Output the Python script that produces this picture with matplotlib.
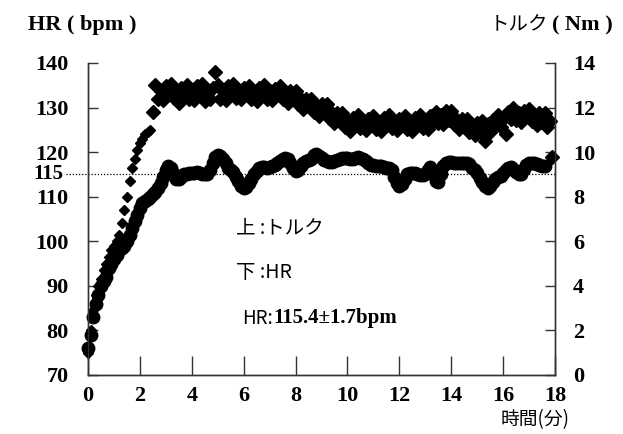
import numpy as np
import matplotlib
matplotlib.use("Agg")
import matplotlib.pyplot as plt
from matplotlib.transforms import blended_transform_factory

# time axis (min), sampled every 0.1 min
t_hr = np.round(np.arange(0, 17.65, 0.1), 2)
t_tq = np.round(np.arange(0, 17.95, 0.1), 2)

# heart rate (bpm)
hr = [76, 79, 83, 86, 88, 90, 91, 92, 94, 95,
      96, 97, 98, 98.5, 99, 100, 101.5, 103, 104.5, 106,
      107.5, 108.5, 109, 109.5, 110, 110.5, 111, 112, 113, 114.5,
      116, 117, 116.5, 115, 114, 114, 114.5, 115, 115, 115.3,
      115.3, 115.3, 115.5, 115.3, 115, 115, 115, 116, 117.5, 118.8,
      119.3, 119.2, 118.5, 117.5, 116.5, 116, 115.5, 114.5, 113.5, 112.5,
      112, 112.2, 113, 114, 115, 115.8, 116.5, 116.7, 116.7, 116.5,
      116.7, 117, 117.2, 117.5, 118, 118.5, 118.7, 118.5, 117.5, 116.5,
      115.8, 116, 116.8, 117.5, 118, 118.2, 118.5, 119.3, 119.5, 119.2,
      118.7, 118.3, 118, 117.8, 117.8, 118, 118.3, 118.5, 118.7, 118.7,
      118.7, 118.5, 118.5, 118.7, 118.8, 118.7, 118.5, 118, 117.5, 117.2,
      117.1, 117, 117, 116.8, 116.7, 116.5, 116.4, 116, 114.5, 113,
      112.5, 112.8, 114, 115, 115.3, 115.3, 115.3, 115, 114.8, 114.9,
      115.2, 116, 116.7, 115.5, 113.5, 113.3, 115, 116.8, 117.6, 117.7,
      117.7, 117.6, 117.6, 117.6, 117.6, 117.6, 117.6, 117.3, 116.5, 116,
      115.3, 114.3, 113.2, 112.3, 112, 112.3, 113.2, 114, 114.4, 114.6,
      115.3, 116, 116.5, 116.7, 116.2, 115.5, 115, 115.2, 116.2, 117.2,
      117.6, 117.6, 117.5, 117.3, 117.2, 117, 116.8]

# torque (Nm)
torque = [1.0, 2.0, 2.9, 3.6, 4.0, 4.3, 4.7, 5.0, 5.3, 5.6,
          5.8, 6.0, 6.3, 6.8, 7.4, 8.0, 8.7, 9.3, 9.7, 10.1,
          10.4, 10.6, 10.8, 10.9, 11.0, 11.8, 13.0, 12.4, 12.75, 12.35,
          12.95, 12.6, 13.05, 12.45, 12.8, 12.2, 12.9, 12.65, 13.0, 12.4,
          12.75, 12.35, 12.95, 12.6, 13.05, 12.3, 12.8, 12.4, 12.9, 13.6,
          13.0, 12.4, 12.75, 12.35, 12.95, 12.6, 13.05, 12.45, 12.8, 12.4,
          12.9, 12.65, 12.95, 12.4, 12.7, 12.3, 12.9, 12.55, 13.0, 12.4,
          12.75, 12.35, 12.85, 12.6, 12.95, 12.4, 12.65, 12.2, 12.75, 12.4,
          12.75, 12.15, 12.4, 11.95, 12.4, 12.1, 12.4, 11.8, 12.05, 11.6,
          12.15, 11.8, 12.15, 11.55, 11.75, 11.3, 11.75, 11.45, 11.75, 11.15,
          11.4, 10.95, 11.55, 11.2, 11.65, 11.1, 11.4, 11.0, 11.5, 11.25,
          11.6, 11.05, 11.35, 10.95, 11.55, 11.2, 11.65, 11.1, 11.4, 11.0,
          11.5, 11.25, 11.6, 11.05, 11.35, 10.95, 11.55, 11.2, 11.65, 11.1,
          11.4, 11.05, 11.6, 11.4, 11.8, 11.3, 11.65, 11.25, 11.85, 11.45,
          11.85, 11.25, 11.5, 11.05, 11.5, 11.2, 11.5, 10.9, 11.15, 10.75,
          11.3, 10.95, 11.4, 10.5, 11.25, 10.9, 11.45, 11.25, 11.65, 11.15,
          11.5, 10.8, 11.8, 11.5, 12.0, 11.45, 11.75, 11.35, 11.85, 11.6,
          11.95, 11.4, 11.65, 11.2, 11.75, 11.35, 11.75, 11.15, 11.4, 9.8]

hr_ticks = [70, 80, 90, 100, 110, 120, 130, 140]
tq_ticks = [0, 2, 4, 6, 8, 10, 12, 14]
t_ticks = [0, 2, 4, 6, 8, 10, 12, 14, 16, 18]
hr_mean = 115
n_rise = 26  # samples before the torque plateau

serif = "Liberation Serif"
jp = "Noto Sans CJK JP"
W, H = 623, 434

fig = plt.figure(figsize=(6.23, 4.34), dpi=100)
ax = fig.add_axes([88 / W, 1 - 375 / H, 467 / W, 312 / H])
ax2 = ax.twinx()

ax.plot(t_hr, hr, "o", color="black", ms=9, mec="black", clip_on=False, zorder=3)
# rise part is sparse (small diamonds), the plateau is a dense band
ax2.plot(t_tq[:n_rise], torque[:n_rise], "D", color="black", ms=5, clip_on=False)
ax2.plot(t_tq[n_rise - 1:], torque[n_rise - 1:], "D", color="black", ms=6.8,
         clip_on=False)

# dotted reference line at 115 bpm, reaching out to the label
tr = blended_transform_factory(ax.transAxes, ax.transData)
ax.plot([-0.047, 1], [hr_mean, hr_mean], ls=(0, (1, 1.5)), color="black",
        lw=0.9, transform=tr, clip_on=False, zorder=1)
ax.text(-0.053, hr_mean, str(hr_mean), transform=tr, ha="right", va="center",
        fontsize=15, fontweight="bold", family=serif)

ax.set_xlim(0, 18)
ax.set_ylim(70, 140)
ax2.set_ylim(0, 14)
ax.set_xticks(t_ticks)
ax.set_yticks(hr_ticks)
ax2.set_yticks(tq_ticks)

for a in (ax, ax2):
    a.spines["top"].set_visible(False)
    for s in a.spines.values():
        s.set_color("#333333")
        s.set_linewidth(1)
ax.tick_params(axis="x", direction="in", length=14, width=1, pad=8, color="#333333")
ax.tick_params(axis="y", direction="in", length=7, width=1, pad=14, color="#333333")
ax2.tick_params(axis="y", direction="in", length=7, width=1, pad=13, color="#333333")
for lab in ax.get_xticklabels() + ax.get_yticklabels() + ax2.get_yticklabels():
    lab.set_fontfamily(serif)
    lab.set_fontweight("bold")
    lab.set_fontsize(16)

fig.text(28 / W, 1 - 25 / H, "HR ( bpm )", family=serif, fontweight="bold",
         fontsize=16, va="center", ha="left")
fig.text(490 / W, 1 - 25 / H, "トルク", family=jp, fontsize=14,
         va="center", ha="left")
fig.text(613 / W, 1 - 25 / H, "( Nm )", family=serif, fontweight="bold",
         fontsize=16, va="center", ha="right")
fig.text(570 / W, 1 - 420 / H, "時間(分)", family=jp, fontsize=13.5,
         va="center", ha="right")

fig.text(236 / W, 1 - 228 / H, "上 :トルク", family=jp, fontsize=14, va="center")
fig.text(236 / W, 1 - 272 / H, "下 :HR", family=jp, fontsize=14, va="center")
fig.text(242 / W, 1 - 318 / H, "HR:", family=jp, fontsize=13.5, va="center")
fig.text(273 / W, 1 - 318 / H, "115.4±1.7bpm", family=[serif, jp],
         fontweight="bold", fontsize=15, va="center")

fig.savefig("out.png", dpi=100)
